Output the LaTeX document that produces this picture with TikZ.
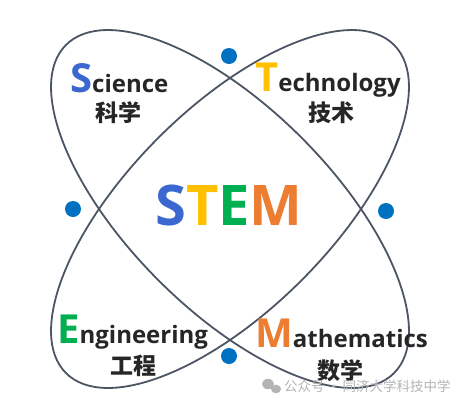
\documentclass[tikz,border=0pt]{standalone}
\usepackage{fontspec}
\setmainfont{Open Sans}
\newfontfamily\cjk{Noto Sans CJK SC}
\definecolor{sblue}{HTML}{3A67D0}
\definecolor{tyellow}{HTML}{FFC000}
\definecolor{egreen}{HTML}{00B050}
\definecolor{morange}{HTML}{ED7D31}
\definecolor{ringc}{HTML}{4B5563}
\definecolor{dotc}{HTML}{0070C0}
\definecolor{wm}{HTML}{B4B4B4}
\definecolor{txt}{HTML}{262626}
\tikzset{
  ring/.style={draw=ringc, line width=1.8pt},
  dotn/.style={circle, fill=dotc, inner sep=0pt, minimum size=16pt},
  lab/.style={anchor=base west, inner sep=0pt, text=txt, font=\bfseries},
  cn/.style={inner sep=0pt, text=txt, font=\cjk\bfseries\fontsize{23}{23}\selectfont},
}
\newcommand{\biginit}[2]{\textcolor{#1}{\fontsize{40}{40}\selectfont #2}}
\begin{document}
\begin{tikzpicture}[x=1pt,y=-1pt]
\useasboundingbox (0,0) rectangle (471,405);
\draw[ring, rotate around={-45:(230,209)}] (230,209) ellipse [x radius=232, y radius=101];
\draw[ring, rotate around={45:(230,209)}] (230,209) ellipse [x radius=232, y radius=101];
\node[dotn] (d1) at (229,56) {};
\node[dotn] (d2) at (73,209) {};
\node[dotn] (d3) at (386,211) {};
\node[dotn] (d4) at (229,356) {};
\node[anchor=base, inner sep=0pt, font=\bfseries\fontsize{56}{56}\selectfont] (stem) at (229,225)
  {\textcolor{sblue}{S}\textcolor{tyellow}{T}\textcolor{egreen}{E}\textcolor{morange}{M}};
\node[lab] (sci) at (70,92) {\biginit{sblue}{S}\fontsize{24}{24}\selectfont cience};
\node[cn] (kx) at (118,113) {科学};
\node[lab] (tec) at (255,91) {\biginit{tyellow}{T}\fontsize{24}{24}\selectfont echnology};
\node[cn] (js) at (331,113) {技术};
\node[lab] (eng) at (57,343) {\biginit{egreen}{E}\fontsize{24}{24}\selectfont ngineering};
\node[cn] (gc) at (133,366) {工程};
\node[lab] (mat) at (255,347) {\biginit{morange}{M}\fontsize{24}{24}\selectfont athematics};
\node[cn] (sx) at (340,371) {数学};
\fill[wm] (268,384) ellipse [x radius=6, y radius=5.2];
\fill[wm] (276,389) ellipse [x radius=5, y radius=4.3];
\node[anchor=west, inner sep=0pt, text=wm, font=\cjk\fontsize{13.5}{13.5}\selectfont] (wmt) at (284,386) {公众号\,·\,同济大学科技中学};
\end{tikzpicture}
\end{document}
